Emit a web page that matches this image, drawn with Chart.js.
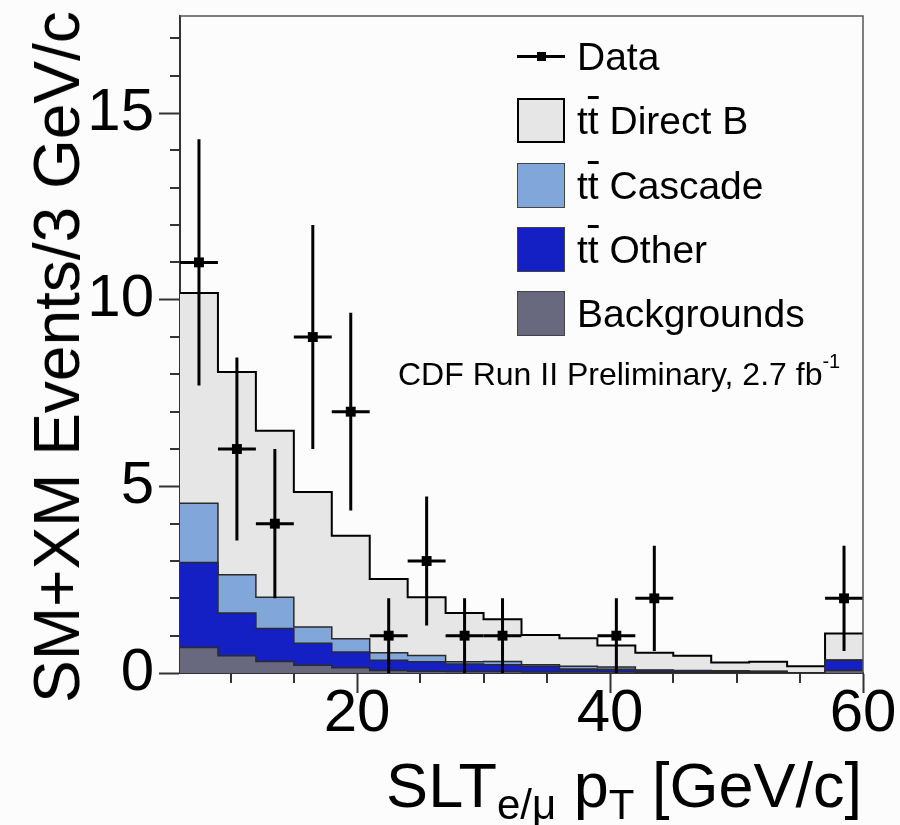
<!DOCTYPE html>
<html lang="en">
<head>
<meta charset="UTF-8">
<title>SLT pT</title>
<script src="https://cdn.jsdelivr.net/npm/chart.js@4.4.0/dist/chart.umd.min.js"></script>
<style>
    body { margin: 0; background: #fcfcfc; font-family: "Liberation Sans", Arial, sans-serif; color: #000; }
    #wrap { position: relative; width: 900px; height: 825px; overflow: hidden; }
    #chart { position: absolute; left: 0; top: 0; }
    .leg { position: absolute; left: 517px; height: 45px; display: flex; align-items: center; font-size: 39px; white-space: nowrap; }
    .box { width: 48px; height: 45px; box-sizing: border-box; margin-right: 12px; border: 1.5px solid #444; }
    .mk { position: relative; width: 48px; height: 45px; margin-right: 12px; }
    .mk .ln { position: absolute; left: 0; right: 0; top: 21px; height: 3px; background: #000; }
    .mk .sq { position: absolute; left: 20px; top: 18px; width: 9px; height: 9px; background: #000; }
    .ob { text-decoration: overline; }
    #cdf { position: absolute; left: 398px; top: 358px; font-size: 32px; line-height: 32px; white-space: nowrap; }
    #cdf sup { font-size: 20px; vertical-align: baseline; position: relative; top: -17px; }
    #xtitle { position: absolute; right: 38px; top: 754px; font-size: 63px; line-height: 63px; white-space: nowrap; }
    #xtitle sub { font-size: 42px; vertical-align: baseline; position: relative; top: 12px; }
    #ytitle { position: absolute; left: 57px; top: 357px; transform: translate(-50%, -50%) rotate(-90deg); font-size: 64px; line-height: 64px; white-space: nowrap; }
</style>
</head>
<body>
<div id="wrap">
    <canvas id="chart" width="900" height="825"></canvas>

    <div class="leg" style="top:34px"><span class="mk"><span class="ln"></span><span class="sq"></span></span>Data</div>
    <div class="leg" style="top:98px"><span class="box" style="background:#e6e6e6;border:2px solid #000"></span>t<span class="ob">t</span>&nbsp;Direct B</div>
    <div class="leg" style="top:163px"><span class="box" style="background:#80a6da"></span>t<span class="ob">t</span>&nbsp;Cascade</div>
    <div class="leg" style="top:227px"><span class="box" style="background:#1520c4"></span>t<span class="ob">t</span>&nbsp;Other</div>
    <div class="leg" style="top:291px"><span class="box" style="background:#68687f"></span>Backgrounds</div>

    <div id="cdf">CDF Run II Preliminary, 2.7 fb<sup>-1</sup></div>
    <div id="xtitle">SLT<sub>e/μ</sub> p<sub>T</sub> [GeV/c]</div>
    <div id="ytitle">SM+XM Events/3 GeV/c</div>
</div>

<script>
    // bins of 3 GeV/c from 6 to 60
    const binEdges = [6, 9, 12, 15, 18, 21, 24, 27, 30, 33, 36, 39, 42, 45, 48, 51, 54, 57, 60];

    // stacked MC components (per bin)
    const backgrounds = [0.68, 0.46, 0.31, 0.21, 0.14, 0.07, 0.05, 0.04, 0.04, 0.03, 0.03, 0.03, 0.02, 0.02, 0.02, 0.02, 0.01, 0.07];
    const ttOther     = [2.28, 1.15, 0.88, 0.59, 0.42, 0.27, 0.25, 0.20, 0.18, 0.15, 0.08, 0.07, 0.05, 0.04, 0.03, 0.02, 0.00, 0.27];
    const ttCascade   = [1.59, 1.02, 0.84, 0.43, 0.36, 0.20, 0.17, 0.06, 0.09, 0.04, 0.07, 0.06, 0.01, 0.01, 0.01, 0.01, 0.00, 0.01];
    const ttDirectB   = [5.63, 5.43, 4.46, 3.62, 2.76, 1.98, 1.56, 1.31, 1.13, 0.80, 0.75, 0.58, 0.46, 0.39, 0.22, 0.25, 0.17, 0.71];

    // observed data and its errors
    const dataCounts = [11, 6, 4, 9, 7, 1, 3, 1, 1, 0, 0, 1, 2, 0, 0, 0, 0, 2];
    const dataErrors = [3.3, 2.45, 2.0, 3.0, 2.65, 1.0, 1.73, 1.0, 1.0, 0, 0, 1.0, 1.41, 0, 0, 0, 0, 1.41];

    const xTicks = [20, 40, 60];
    const yTicks = [0, 5, 10, 15];
    const xMinorStep = 5;
    const yMinorStep = 1;

    const fontFamily = '"Liberation Sans", Arial, sans-serif';

    // histogram as step line: one point per left edge + closing point
    function histPoints(values) {
        const pts = values.map((v, i) => ({ x: binEdges[i], y: v }));
        pts.push({ x: binEdges[binEdges.length - 1], y: values[values.length - 1] });
        return pts;
    }

    const dataPoints = [];
    dataCounts.forEach((c, i) => {
        if (c > 0) {
            dataPoints.push({ x: (binEdges[i] + binEdges[i + 1]) / 2, y: c, err: dataErrors[i], lo: binEdges[i], hi: binEdges[i + 1] });
        }
    });

    function histDataset(label, values, bg, border, width, fillMode) {
        return {
            label: label,
            data: histPoints(values),
            stepped: 'before',
            backgroundColor: bg,
            borderColor: border,
            borderWidth: width,
            pointRadius: 0,
            fill: fillMode,
            stack: 'mc'
        };
    }

    // error bars drawn just before the data markers
    const errorBars = {
        id: 'errorBars',
        beforeDatasetDraw(chart, args) {
            if (args.index !== 0) return;
            const ctx = chart.ctx;
            const xs = chart.scales.x, ys = chart.scales.y;
            ctx.save();
            ctx.strokeStyle = '#000';
            ctx.lineWidth = 3;
            dataPoints.forEach(p => {
                const px = xs.getPixelForValue(p.x);
                const py = ys.getPixelForValue(p.y);
                ctx.beginPath();
                ctx.moveTo(px, ys.getPixelForValue(Math.max(p.y - p.err, 0)));
                ctx.lineTo(px, ys.getPixelForValue(p.y + p.err));
                ctx.moveTo(xs.getPixelForValue(p.lo), py);
                ctx.lineTo(xs.getPixelForValue(p.hi), py);
                ctx.stroke();
            });
            ctx.restore();
        }
    };

    // minor ticks and the top/right frame
    const frameTicks = {
        id: 'frameTicks',
        afterDraw(chart) {
            const ctx = chart.ctx;
            const a = chart.chartArea;
            const xs = chart.scales.x, ys = chart.scales.y;
            ctx.save();
            ctx.strokeStyle = '#333';
            ctx.lineWidth = 2;
            ctx.beginPath();
            for (let v = 0; v <= ys.max; v += yMinorStep) {
                if (yTicks.includes(v)) continue;
                const py = Math.round(ys.getPixelForValue(v));
                ctx.moveTo(a.left - 10, py);
                ctx.lineTo(a.left, py);
            }
            for (let v = 10; v <= xs.max; v += xMinorStep) {
                if (xTicks.includes(v)) continue;
                const px = Math.round(xs.getPixelForValue(v));
                ctx.moveTo(px, a.bottom);
                ctx.lineTo(px, a.bottom + 10);
            }
            ctx.stroke();
            ctx.strokeStyle = '#555';
            ctx.lineWidth = 1.5;
            ctx.beginPath();
            ctx.moveTo(a.left, a.top);
            ctx.lineTo(a.right, a.top);
            ctx.lineTo(a.right, a.bottom);
            ctx.stroke();
            ctx.restore();
        }
    };

    new Chart(document.getElementById('chart'), {
        type: 'line',
        data: {
            datasets: [
                {
                    label: 'Data',
                    data: dataPoints,
                    showLine: false,
                    pointStyle: 'rect',
                    pointRadius: 7,
                    pointHoverRadius: 7,
                    backgroundColor: '#000',
                    borderColor: '#000',
                    borderWidth: 0,
                    stack: 'obs'
                },
                histDataset('Backgrounds', backgrounds, '#68687f', '#2a2a2a', 1.5, 'origin'),
                histDataset('tt Other', ttOther, '#1520c4', '#2a2a2a', 1.5, '-1'),
                histDataset('tt Cascade', ttCascade, '#80a6da', '#2a2a2a', 1.5, '-1'),
                histDataset('tt Direct B', ttDirectB, '#e6e6e6', '#000', 2, '-1')
            ]
        },
        options: {
            responsive: false,
            animation: false,
            devicePixelRatio: 1,
            layout: { padding: { top: 16, right: 37, left: 0, bottom: 0 } },
            plugins: {
                legend: { display: false },
                tooltip: { enabled: false }
            },
            scales: {
                x: {
                    type: 'linear',
                    min: 6,
                    max: 60,
                    afterBuildTicks: s => { s.ticks = xTicks.map(v => ({ value: v })); },
                    afterFit: s => { s.height = 152; s.paddingLeft = 0; s.paddingRight = 0; },
                    grid: { display: true, drawOnChartArea: false, drawTicks: true, tickLength: 20, tickColor: '#333', tickWidth: 2 },
                    border: { display: true, color: '#333', width: 2 },
                    ticks: { color: '#000', maxRotation: 0, padding: -15, font: { family: fontFamily, size: 60 } }
                },
                y: {
                    stacked: true,
                    min: 0,
                    max: 17.6,
                    afterBuildTicks: s => { s.ticks = yTicks.map(v => ({ value: v })); },
                    afterFit: s => { s.width = 180; s.paddingTop = 0; s.paddingBottom = 0; },
                    grid: { display: true, drawOnChartArea: false, drawTicks: true, tickLength: 21, tickColor: '#333', tickWidth: 2 },
                    border: { display: true, color: '#333', width: 2 },
                    ticks: { color: '#000', padding: 5, font: { family: fontFamily, size: 60 } }
                }
            }
        },
        plugins: [errorBars, frameTicks]
    });
</script>
</body>
</html>
